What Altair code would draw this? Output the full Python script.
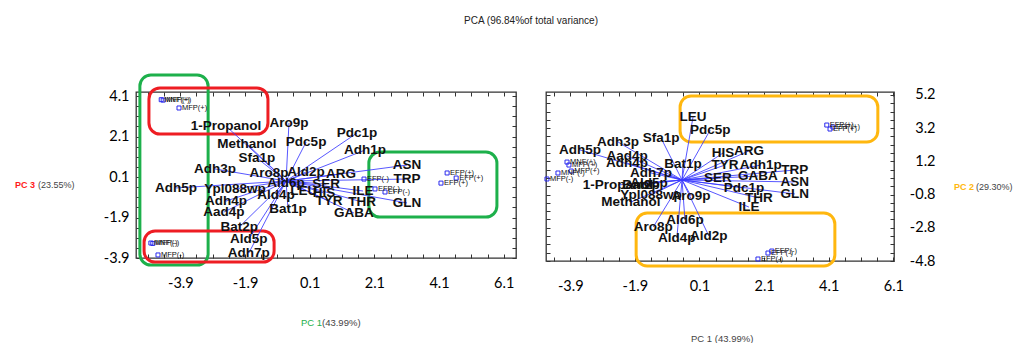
import altair as alt
import pandas as pd

TITLE = "PCA (96.84%of total variance)"

# ---------------- Left panel: PC 1 (x) vs PC 3 (y) ----------------
L_VAR = ["1-Propanol", "Aro9p", "Methanol", "Pdc5p", "Pdc1p", "Adh1p", "Sfa1p", "Adh3p",
         "Aro8p", "Ald2p", "ARG", "SER", "Ald6p", "Adh5p", "Ypl088wp", "LEU", "HIS", "ILE",
         "Ald4p", "TYR", "THR", "Adh4p", "Bat1p", "Aad4p", "GABA", "Bat2p", "Ald5p", "Adh7p",
         "ASN", "TRP", "GLN"]
L_VAR_X = [-2.49, -0.54, -1.84, -0.01, 1.56, 1.81, -1.53, -2.83, -1.16, -0.01, 1.07, 0.61,
           -0.63, -4.03, -2.21, -0.08, 0.54, 1.75, -0.94, 0.70, 1.72, -2.49, -0.57, -2.55,
           1.47, -2.08, -1.78, -1.78, 3.11, 3.11, 3.11]
L_VAR_Y = [2.62, 2.77, 1.73, 1.83, 2.27, 1.43, 1.04, 0.50, 0.30, 0.35, 0.25, -0.25, -0.20,
           -0.44, -0.49, -0.59, -0.69, -0.59, -0.79, -1.09, -1.13, -1.09, -1.48, -1.63,
           -1.68, -2.37, -2.96, -3.65, 0.69, 0.00, -1.18]
L_CENTER = (-0.63, -0.10)

L_OBS = ["MNF(+)", "MFP(+)", "MFP(+)", "MNF(-)", "MFP(-)", "MFP(-)",
         "EFP(-)", "EFP(-)", "EFP(-)", "EFP(+)", "EFP(+)", "EFP(+)"]
L_OBS_X = [-4.49, -4.43, -3.94, -4.81, -4.75, -4.59, 1.78, 2.12, 2.43, 4.35, 4.63, 4.16]
L_OBS_Y = [3.92, 3.90, 3.51, -3.16, -3.18, -3.75, 0.00, -0.49, -0.64, 0.30, 0.05, -0.20]

L_BOX_X1 = [-5.15, -4.87, -5.02, 1.93]
L_BOX_X2 = [-3.04, -1.19, -1.00, 5.89]
L_BOX_Y1 = [5.14, 4.50, -2.57, 1.33]
L_BOX_Y2 = [-4.25, 2.22, -4.10, -1.88]
L_BOX_COLOR = ["#1db04b", "#ee1d23", "#ee1d23", "#1db04b"]

L_XTICKS = [-3.9, -1.9, 0.1, 2.1, 4.1, 6.1]
L_YTICKS = [-3.9, -1.9, 0.1, 2.1, 4.1]
L_XDOM = [-5.27, 6.48]
L_YDOM = [-3.90, 4.30]

# ---------------- Right panel: PC 1 (x) vs PC 2 (y) ----------------
R_VAR = ["LEU", "Pdc5p", "Sfa1p", "Adh3p", "Adh5p", "Aad4p", "Adh4p", "Bat1p", "HIS", "ARG",
         "TYR", "Adh1p", "TRP", "Adh7p", "SER", "GABA", "ASN", "1-Propanol", "Ald5p", "Bat2p",
         "Pdc1p", "THR", "GLN", "ILE", "Aro9p", "Ypl088wp", "Methanol", "Ald6p", "Aro8p",
         "Ald4p", "Ald2p"]
R_VAR_X = [-0.10, 0.43, -1.09, -2.42, -3.60, -2.14, -2.14, -0.41, 0.83, 1.63, 0.89, 2.00,
           3.05, -1.40, 0.67, 1.91, 3.05, -2.42, -1.46, -1.71, 1.48, 1.94, 3.05, 1.63,
           -0.16, -1.40, -2.02, -0.35, -1.33, -0.60, 0.39]
R_VAR_Y = [3.87, 3.09, 2.61, 2.37, 1.89, 1.53, 1.10, 1.04, 1.71, 1.83, 0.98, 0.98, 0.68,
           0.50, 0.20, 0.32, -0.04, -0.22, -0.10, -0.22, -0.40, -1.00, -0.76, -1.55, -0.88,
           -0.82, -1.25, -2.33, -2.75, -3.41, -3.29]
R_CENTER = (-0.44, 0.08)

R_OBS = ["MNF(+)", "MFP(+)", "MNF(-)", "MFP(+)", "MFP(-)",
         "EFP(+)", "EFP(+)", "EFP(+)", "EFP(-)", "EFP(-)", "EFP(-)"]
R_OBS_X = [-4.00, -3.94, -4.28, -3.87, -4.62, 4.04, 4.23, 4.14, 2.22, 2.34, 1.91]
R_OBS_Y = [1.16, 0.98, 0.50, 0.62, 0.14, 3.39, 3.27, 3.15, -4.32, -4.20, -4.68]

R_BOX_X1 = [-0.50, -1.86]
R_BOX_X2 = [5.62, 4.29]
R_BOX_Y1 = [5.14, -1.91]
R_BOX_Y2 = [2.37, -5.10]
R_BOX_COLOR = ["#ffb70f", "#ffb70f"]

R_XTICKS = [-3.9, -1.9, 0.1, 2.1, 4.1, 6.1]
R_YTICKS = [-4.8, -2.8, -0.8, 1.2, 3.2, 5.2]
R_XDOM = [-4.65, 6.12]
R_YDOM = [-4.80, 5.38]

LBL_EXPR = "(datum.value < 0 ? '-' : '') + format(abs(datum.value), '.1f')"
TICK_FONT = "Lato"
VAR_FONT = "Liberation Sans"
BLUE = "#3a3aff"


def minor(lo, hi, start):
    vals = []
    v = start
    while v <= hi + 1e-9:
        if v >= lo - 1e-9:
            vals.append(round(v, 2))
        v += 0.5
    return vals


def label_axis(orient, values, pad, align=None):
    kw = dict(orient=orient, values=values, ticks=False, tickSize=0, domain=False, grid=False,
              labelPadding=pad, labelFont=TICK_FONT, labelFontSize=14.5, labelColor="#000",
              labelExpr=LBL_EXPR, labelFlush=False, labelOverlap=False, title=None)
    if align:
        kw["labelAlign"] = align
    return alt.Axis(**kw)


def tick_axis(orient, values, offset):
    return alt.Axis(orient=orient, values=values, offset=offset, labels=False, domain=False,
                    grid=False, tickSize=4, tickColor="#333", tickWidth=1, title=None)


def panel(var, vx, vy, center, obs, ox, oy, bx1, bx2, by1, by2, bcol,
          xticks, yticks, xdom, ydom, W, H, yorient, ypad, xpad, annotations):
    xs = alt.Scale(domain=xdom, nice=False, zero=False)
    ys = alt.Scale(domain=ydom, nice=False, zero=False)
    var_df = pd.DataFrame({"name": var, "x": vx, "y": vy,
                           "cx": [center[0]] * len(var), "cy": [center[1]] * len(var)})
    obs_df = pd.DataFrame({"name": obs, "x": ox, "y": oy})
    box_df = pd.DataFrame({"x1": bx1, "x2": bx2, "y1": by1, "y2": by2, "c": bcol})
    xminor = minor(xdom[0], xdom[1], xticks[0] - 1.0)
    yminor = minor(ydom[0], ydom[1], yticks[0] - 1.0)

    boxes = alt.Chart(box_df).mark_rect(filled=False, strokeWidth=3, cornerRadius=11).encode(
        x=alt.X("x1:Q", scale=xs, axis=label_axis("bottom", xticks, xpad)),
        x2="x2:Q",
        y=alt.Y("y1:Q", scale=ys, axis=label_axis(yorient, yticks, ypad, "right")),
        y2="y2:Q",
        stroke=alt.Stroke("c:N", scale=None),
    )
    rules = alt.Chart(var_df).mark_rule(color=BLUE, strokeWidth=1, opacity=0.85).encode(
        x=alt.X("cx:Q", scale=xs, axis=tick_axis("top", xminor, -H)),
        y=alt.Y("cy:Q", scale=ys, axis=tick_axis("right", yminor, -W)),
        x2="x:Q", y2="y:Q",
    )
    vtext = alt.Chart(var_df).mark_text(font=VAR_FONT, fontSize=13.5, fontWeight="bold",
                                        color="#111").encode(
        x=alt.X("x:Q", scale=xs, axis=tick_axis("bottom", xminor, -H)),
        y=alt.Y("y:Q", scale=ys, axis=tick_axis("left", yminor, -W)),
        text="name:N",
    )
    pts = alt.Chart(obs_df).mark_point(shape="square", filled=False, size=16, color="#2a2aee",
                                       strokeWidth=1, opacity=1).encode(
        x=alt.X("x:Q", scale=xs, axis=None),
        y=alt.Y("y:Q", scale=ys, axis=None),
    )
    otext = alt.Chart(obs_df).mark_text(align="left", dx=3, font=VAR_FONT, fontSize=7.5,
                                        color="#111").encode(
        x=alt.X("x:Q", scale=xs, axis=None),
        y=alt.Y("y:Q", scale=ys, axis=None),
        text="name:N",
    )
    layers = [boxes, rules, vtext, pts, otext]
    one = pd.DataFrame({"k": [0]})
    for txt, px, py, col, size, weight, align in annotations:
        layers.append(alt.Chart(one).mark_text(text=txt, color=col, fontSize=size,
                                               fontWeight=weight, align=align,
                                               font="Liberation Sans").encode(
            x=alt.value(px), y=alt.value(py)))
    return alt.layer(*layers).resolve_axis(x="independent", y="independent").properties(
        width=W, height=H)


GRAY = "#444"
left_ann = [
    (TITLE, 395, -71, "#222", 10, "normal", "center"),
    ("PC 3", -121, 93, "#ff1a1a", 9, "bold", "left"),
    ("(23.55%)", -98, 93, GRAY, 9, "normal", "left"),
    ("PC 1", 165, 231, "#1db04b", 9.5, "normal", "left"),
    ("(43.99%)", 186, 231, GRAY, 9.5, "normal", "left"),
]
right_ann = [
    ("PC 2", 408, 95, "#ffb70f", 9, "bold", "left"),
    ("(29.30%)", 430, 95, GRAY, 9, "normal", "left"),
    ("PC 1 (43.99%)", 145, 247, GRAY, 9.5, "normal", "left"),
]

left = panel(L_VAR, L_VAR_X, L_VAR_Y, L_CENTER, L_OBS, L_OBS_X, L_OBS_Y,
             L_BOX_X1, L_BOX_X2, L_BOX_Y1, L_BOX_Y2, L_BOX_COLOR,
             L_XTICKS, L_YTICKS, L_XDOM, L_YDOM, 380, 166, "left", 7, 18, left_ann)
right = panel(R_VAR, R_VAR_X, R_VAR_Y, R_CENTER, R_OBS, R_OBS_X, R_OBS_Y,
              R_BOX_X1, R_BOX_X2, R_BOX_Y1, R_BOX_Y2, R_BOX_COLOR,
              R_XTICKS, R_YTICKS, R_XDOM, R_YDOM, 348, 169, "right", 41, 18, right_ann)

chart = alt.hconcat(left, right, spacing=30).properties(
    bounds="flush",
    padding={"left": 14, "top": 15, "right": 0, "bottom": 0},
    background="white",
).configure_view(stroke="#333", strokeWidth=1.3)

chart.save("out.html", embed_options={"renderer": "svg", "actions": False})
